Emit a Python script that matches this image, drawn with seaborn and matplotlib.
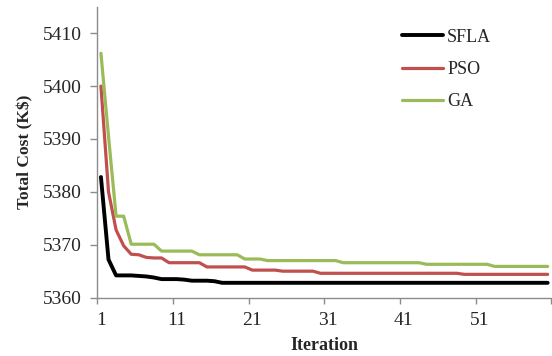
import pandas as pd
import seaborn as sns
import matplotlib.pyplot as plt
import numpy as np

# Data (iterations 1..60)
iteration = list(range(1, 61))

sfla = [5382.8, 5367.2, 5364.2, 5364.2, 5364.2, 5364.1, 5364.0, 5363.8, 5363.5, 5363.5,
        5363.5, 5363.4, 5363.2, 5363.2, 5363.2, 5363.1, 5362.8, 5362.8, 5362.8, 5362.8,
        5362.8, 5362.8, 5362.8, 5362.8, 5362.8, 5362.8, 5362.8, 5362.8, 5362.8, 5362.8,
        5362.8, 5362.8, 5362.8, 5362.8, 5362.8, 5362.8, 5362.8, 5362.8, 5362.8, 5362.8,
        5362.8, 5362.8, 5362.8, 5362.8, 5362.8, 5362.8, 5362.8, 5362.8, 5362.8, 5362.8,
        5362.8, 5362.8, 5362.8, 5362.8, 5362.8, 5362.8, 5362.8, 5362.8, 5362.8, 5362.8]

pso = [5400.0, 5380.0, 5372.8, 5369.8, 5368.2, 5368.1, 5367.6, 5367.5, 5367.5, 5366.6,
       5366.6, 5366.6, 5366.6, 5366.6, 5365.8, 5365.8, 5365.8, 5365.8, 5365.8, 5365.8,
       5365.2, 5365.2, 5365.2, 5365.2, 5365.0, 5365.0, 5365.0, 5365.0, 5365.0, 5364.6,
       5364.6, 5364.6, 5364.6, 5364.6, 5364.6, 5364.6, 5364.6, 5364.6, 5364.6, 5364.6,
       5364.6, 5364.6, 5364.6, 5364.6, 5364.6, 5364.6, 5364.6, 5364.6, 5364.4, 5364.4,
       5364.4, 5364.4, 5364.4, 5364.4, 5364.4, 5364.4, 5364.4, 5364.4, 5364.4, 5364.4]

ga = [5406.2, 5390.5, 5375.4, 5375.4, 5370.1, 5370.1, 5370.1, 5370.1, 5368.8, 5368.8,
      5368.8, 5368.8, 5368.8, 5368.1, 5368.1, 5368.1, 5368.1, 5368.1, 5368.1, 5367.3,
      5367.3, 5367.3, 5367.0, 5367.0, 5367.0, 5367.0, 5367.0, 5367.0, 5367.0, 5367.0,
      5367.0, 5367.0, 5366.6, 5366.6, 5366.6, 5366.6, 5366.6, 5366.6, 5366.6, 5366.6,
      5366.6, 5366.6, 5366.6, 5366.3, 5366.3, 5366.3, 5366.3, 5366.3, 5366.3, 5366.3,
      5366.3, 5366.3, 5365.9, 5365.9, 5365.9, 5365.9, 5365.9, 5365.9, 5365.9, 5365.9]

series_names = ['SFLA', 'PSO', 'GA']
colors = ['#000000', '#C0504D', '#9BBB59']
widths = [2.8, 2.3, 2.3]

x_labels = [1, 11, 21, 31, 41, 51]
y_ticks = [5360, 5370, 5380, 5390, 5400, 5410]

df = pd.DataFrame({'Iteration': iteration, 'SFLA': sfla, 'PSO': pso, 'GA': ga})

sns.set_style('white')
plt.rcParams['font.family'] = ['Liberation Serif', 'DejaVu Serif']

fig = plt.figure(figsize=(5.52, 3.56), dpi=100)
ax = fig.add_axes([0.176, 0.164, 0.823, 0.817])

for name, c, lw in zip(series_names, colors, widths):
    sns.lineplot(data=df, x='Iteration', y=name, color=c, linewidth=lw, label=name, ax=ax)

ax.set_xlim(0.5, 60.5)
ax.set_ylim(5360, 5415)

# category-style axis: tick marks between categories, labels on categories
ax.set_xticks(np.arange(0.5, 61, 10))
ax.set_xticklabels([])
ax.set_xticks(x_labels, minor=True)
ax.set_xticklabels([str(v) for v in x_labels], minor=True, fontsize=14)
ax.tick_params(axis='x', which='major', length=4, color='#8c8c8c', width=1, direction='out', bottom=True)
ax.tick_params(axis='x', which='minor', length=0, pad=10, bottom=True)

ax.set_yticks(y_ticks)
ax.set_yticklabels([str(v) for v in y_ticks], fontsize=14)
ax.tick_params(axis='y', length=5, color='#8c8c8c', width=1, direction='out', pad=6, left=True)

for s in ['top', 'right']:
    ax.spines[s].set_visible(False)
for s in ['left', 'bottom']:
    ax.spines[s].set_color('#8c8c8c')
    ax.spines[s].set_linewidth(1)

ax.set_xlabel('Iteration', fontsize=13, fontweight='bold', labelpad=6)
ax.set_ylabel('Total Cost (K$)', fontsize=12.5, fontweight='bold', labelpad=7)

ax.legend(loc='upper left', bbox_to_anchor=(0.715, 0.94), bbox_transform=fig.transFigure,
          frameon=False, fontsize=13, handlelength=2.3, handletextpad=0.2,
          labelspacing=0.85, borderaxespad=0)

fig.savefig('out.png', dpi=100)
